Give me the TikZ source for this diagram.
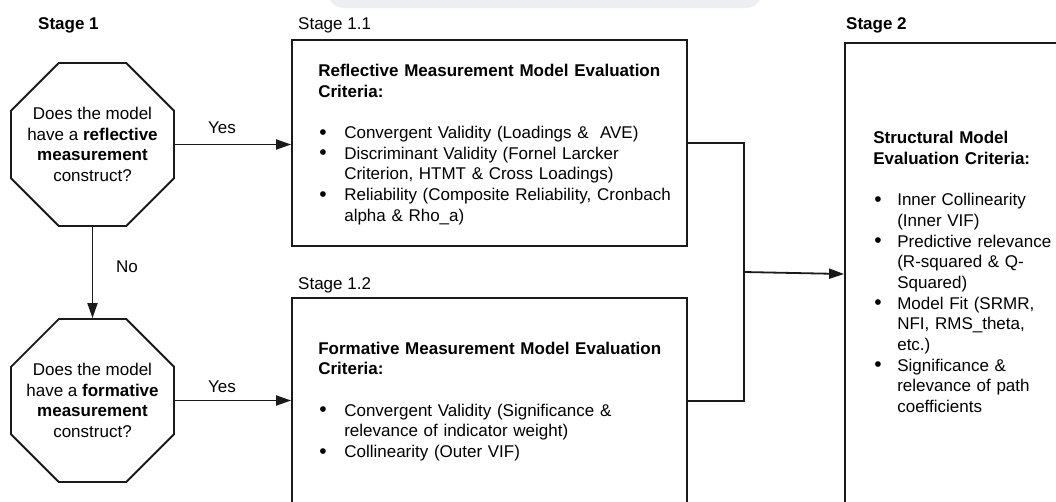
\documentclass[tikz,border=0pt]{standalone}
\usepackage{fontspec}
\setmainfont{Liberation Sans}
\usetikzlibrary{shapes.geometric,arrows.meta}

\definecolor{ink}{HTML}{1A1A1A}
\definecolor{haze}{HTML}{ECEEF4}

% bullet item with a hanging indent
\newcommand{\bul}[2][26pt]{\par\hangindent=#1\hangafter=1\noindent\makebox[#1][l]{\hspace{1pt}\raisebox{-0.5pt}{\fontsize{21}{20.7}\selectfont\textbullet}}#2}

\tikzset{
  wire/.style={draw=ink, line width=1.8pt},
  arr/.style={wire, -{Triangle[length=15pt,width=10pt]}},
  octa/.style={wire, regular polygon, regular polygon sides=8,
    minimum size=176.4pt, inner sep=0pt, fill=white},
  octtext/.style={inner sep=0pt, align=center},
  box/.style={wire, rectangle, inner sep=0pt, fill=white},
  txt/.style={inner sep=0pt, align=left, anchor=west},
  lbl/.style={inner sep=0pt, anchor=base west},
}

\begin{document}
\begin{tikzpicture}[x=1pt, y=-1pt, font=\fontsize{17}{20.7}\selectfont]
\useasboundingbox (0,0) rectangle (1056,501);
\clip (0,0) rectangle (1056,501);
\fill[white] (0,0) rectangle (1056,501);

% faint band along the top edge
\fill[haze] (330,0) -- (760,0) .. controls (757,5) and (752,8) .. (745,8)
  -- (345,8) .. controls (338,8) and (333,5) .. (330,0) -- cycle;

% stage headings
\node[lbl] (st1)  at (38,29)  {\textbf{Stage 1}};
\node[lbl] (st11) at (298,29) {Stage 1.1};
\node[lbl] (st12) at (298,289) {Stage 1.2};
\node[lbl] (st2)  at (846,29) {\textbf{Stage 2}};

% decision octagons
\node[octa] (q1) at (92.5,144.5) {};
\node[octtext] (q1t) at (q1.center) {Does the model\\have a \textbf{reflective}\\\textbf{measurement}\\construct?};
\node[octa] (q2) at (92.5,400.5) {};
\node[octtext] (q2t) at (q2.center) {Does the model\\have a \textbf{formative}\\\textbf{measurement}\\construct?};

% criteria boxes
\node[box, minimum width=395pt, minimum height=206pt] (b1) at (489.5,143) {};
\node[box, minimum width=395pt, minimum height=206pt] (b2) at (489.5,401) {};
\node[box, minimum width=240pt, minimum height=462pt] (s2) at (965,274) {};

\node[txt, text width=372pt] (t1) at ([xshift=27pt,yshift=-1.5pt]b1.west) {%
\noindent\textbf{Reflective Measurement Model Evaluation\newline Criteria:}\par\vspace{20.7pt}
\bul{Convergent Validity (Loadings \&\ \ AVE)}
\bul{Discriminant Validity (Fornel Larcker\newline Criterion, HTMT \& Cross Loadings)}
\bul{Reliability (Composite Reliability, Cronbach\newline alpha \& Rho\_a)}\par};

\node[txt, text width=372pt] (t2) at ([xshift=27pt,yshift=-0.5pt]b2.west) {%
\noindent\textbf{Formative Measurement Model Evaluation\newline Criteria:}\par\vspace{20.7pt}
\bul{Convergent Validity (Significance \&\newline relevance of indicator weight)}
\bul{Collinearity (Outer VIF)}\par};

\node[txt, text width=200pt] (t3) at ([xshift=29pt,yshift=2pt]s2.west) {%
\noindent\textbf{Structural Model\newline Evaluation Criteria:}\par\vspace{20.7pt}
\bul[24pt]{Inner Collinearity\newline (Inner VIF)}
\bul[24pt]{Predictive relevance\newline (R-squared \& Q-\newline Squared)}
\bul[24pt]{Model Fit (SRMR,\newline NFI, RMS\_theta,\newline etc.)}
\bul[24pt]{Significance \&\newline relevance of path\newline coefficients}\par};

% connectors
\coordinate (j) at (744,272);
\draw[arr] (q1.east) -- (q1.east -| b1.west);
\draw[arr] (q2.east) -- (q2.east -| b2.west);
\draw[arr] (q1.south) -- (q2.north);
\draw[wire] (b1.east) -| (j) |- (b2.east);
\draw[arr] (j) -- (s2.west);

% branch labels
\node[inner sep=0pt] (yes1) at (222,128) {Yes};
\node[inner sep=0pt] (yes2) at (222,387) {Yes};
\node[inner sep=0pt] (no)   at (127,267) {No};
\end{tikzpicture}
\end{document}
